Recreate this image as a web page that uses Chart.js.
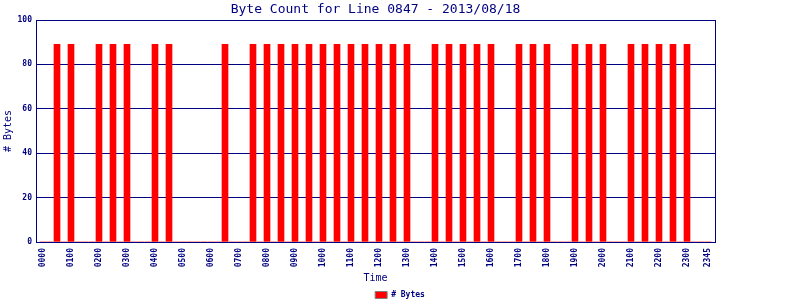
<!DOCTYPE html>
<html><head><meta charset="utf-8">
<script src="https://cdn.jsdelivr.net/npm/chart.js@4/dist/chart.umd.min.js"></script>
<style>html,body{margin:0;padding:0;background:#fff}canvas{display:block}</style>
</head><body>
<canvas id="c" width="800" height="300"></canvas>
<script>
const times = [
  '0000','0015','0030','0045','0100','0115','0130','0145',
  '0200','0215','0230','0245','0300','0315','0330','0345',
  '0400','0415','0430','0445','0500','0515','0530','0545',
  '0600','0615','0630','0645','0700','0715','0730','0745',
  '0800','0815','0830','0845','0900','0915','0930','0945',
  '1000','1015','1030','1045','1100','1115','1130','1145',
  '1200','1215','1230','1245','1300','1315','1330','1345',
  '1400','1415','1430','1445','1500','1515','1530','1545',
  '1600','1615','1630','1645','1700','1715','1730','1745',
  '1800','1815','1830','1845','1900','1915','1930','1945',
  '2000','2015','2030','2045','2100','2115','2130','2145',
  '2200','2215','2230','2245','2300','2315','2330','2345'
];
const byteCounts = [
  0,0,89,0, 89,0,0,0,
  89,0,89,0, 89,0,0,0,
  89,0,89,0, 0,0,0,0,
  0,0,89,0, 0,0,89,0,
  89,0,89,0, 89,0,89,0,
  89,0,89,0, 89,0,89,0,
  89,0,89,0, 89,0,0,0,
  89,0,89,0, 89,0,89,0,
  89,0,0,0, 89,0,89,0,
  89,0,0,0, 89,0,89,0,
  89,0,0,0, 89,0,89,0,
  89,0,89,0, 89,0,0,0
];
const tickLabels = ['0000','0100','0200','0300','0400','0500','0600','0700','0800','0900','1000','1100',
  '1200','1300','1400','1500','1600','1700','1800','1900','2000','2100','2200','2300','2345'];
const yTicks = [0, 20, 40, 60, 80, 100];

const NAVY = '#000080';
const MONO = "'DejaVu Sans Mono', 'Liberation Mono', monospace";
// one empty slot before 0000 and after 2345 (the 2400 edge)
const labels = [''].concat(times, ['']);
const data = [null].concat(byteCounts, [null]);

new Chart(document.getElementById('c'), {
  type: 'bar',
  data: {
    labels: labels,
    datasets: [{
      label: '# Bytes',
      data: data,
      backgroundColor: '#ff0000',
      borderWidth: 0,
      barThickness: 6
    }]
  },
  options: {
    responsive: false,
    animation: false,
    events: [],
    layout: { padding: { top: 0, left: 0, right: 0, bottom: -9 } },
    plugins: {
      tooltip: { enabled: false },
      title: {
        display: true,
        text: 'Byte Count for Line 0847 - 2013/08/18',
        color: NAVY,
        fullSize: false,
        font: { family: MONO, size: 13, weight: 'normal', lineHeight: '16px' },
        padding: { top: 2, bottom: 2 }
      },
      legend: {
        position: 'bottom',
        labels: {
          boxWidth: 12,
          boxHeight: 7,
          padding: 4,
          color: NAVY,
          font: { family: MONO, size: 8, weight: 'bold' },
          generateLabels(chart) {
            const items = Chart.defaults.plugins.legend.labels.generateLabels(chart);
            items.forEach(it => { it.strokeStyle = '#808080'; it.lineWidth = 1; it.fontColor = NAVY; });
            return items;
          }
        }
      }
    },
    scales: {
      x: {
        offset: false,
        grid: { display: false, drawTicks: false },
        border: { display: true, color: NAVY, width: 1 },
        ticks: {
          autoSkip: false,
          maxRotation: 90,
          minRotation: 90,
          padding: 6,
          color: NAVY,
          font: { family: MONO, size: 8, weight: 'bold' },
          callback(v) { const l = labels[v]; return tickLabels.includes(l) ? l : ''; }
        },
        title: {
          display: true, text: 'Time', color: NAVY,
          font: { family: MONO, size: 10, lineHeight: '12px' },
          padding: { top: 0, bottom: 3 }
        },
        afterFit(s) { s.height = 45; }
      },
      y: {
        min: 0, max: 100,
        grid: { color: NAVY, lineWidth: 1, drawTicks: false },
        border: { display: true, color: NAVY, width: 1 },
        ticks: {
          padding: 4, color: NAVY,
          font: { family: MONO, size: 8, weight: 'bold' }
        },
        afterBuildTicks(s) { s.ticks = yTicks.map(v => ({ value: v })); },
        title: {
          display: true, text: '# Bytes', color: NAVY,
          font: { family: MONO, size: 10, lineHeight: '12px' },
          padding: { top: 2, bottom: 0 }
        },
        afterFit(s) { s.width = 36; }
      },
      yR: {
        position: 'right',
        display: true,
        grid: { display: false, drawTicks: false },
        ticks: { display: false },
        border: { display: true, color: NAVY, width: 1 },
        afterFit(s) { s.width = 85; }
      }
    }
  }
});
</script>
</body></html>
